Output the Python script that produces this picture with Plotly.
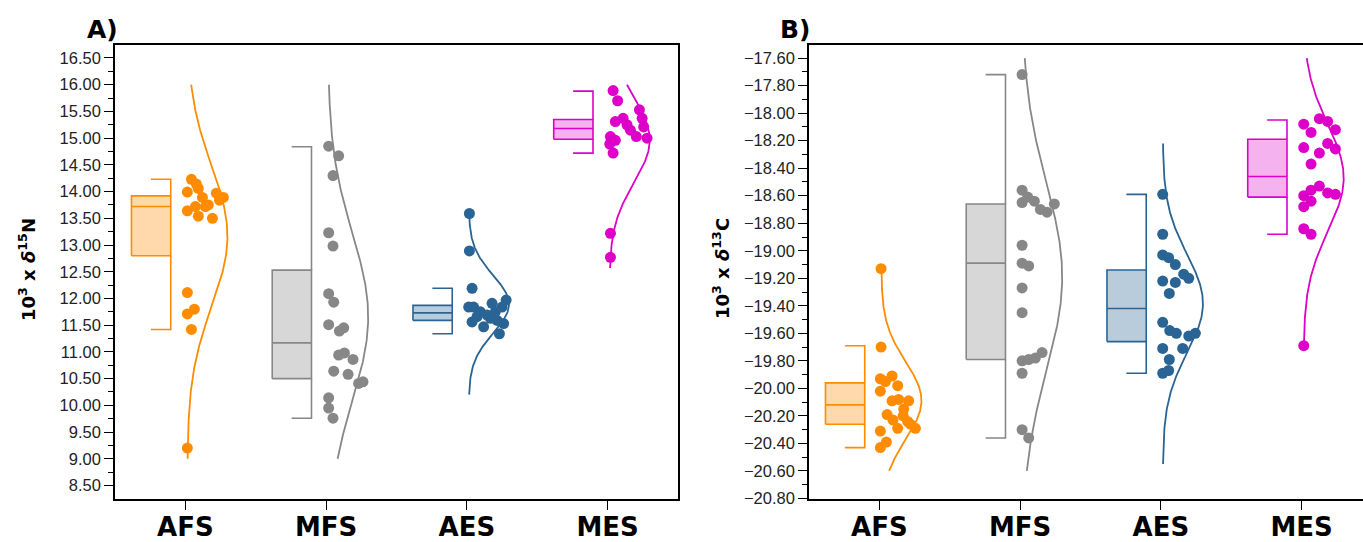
import numpy as np
import plotly.graph_objects as go

W, H = 1363, 542
categories = ["AFS", "MFS", "AES", "MES"]
colors = ["#FF8C00", "#878787", "#2A6494", "#DC00C8"]
fills = ["rgba(255,140,0,0.33)", "rgba(135,135,135,0.33)", "rgba(42,100,148,0.33)", "rgba(220,0,200,0.30)"]

# ---------------- Panel A : d15N ----------------
a_afs = [14.23, 14.14, 14.06, 13.99, 13.97, 13.89, 13.84, 13.89, 13.75, 13.72, 13.72, 13.64, 13.54, 13.50, 12.11, 11.80, 11.71, 11.42, 9.20]
a_afs_jit = [0.043, 0.078, 0.092, 0.014, 0.22, 0.27, 0.242, 0.121, 0.163, 0.142, 0.071, 0.014, 0.092, 0.192, 0.014, 0.064, 0.014, 0.043, 0.014]
a_mfs = [14.85, 14.67, 14.30, 13.23, 12.98, 12.09, 11.93, 11.51, 11.39, 11.45, 10.94, 10.98, 10.86, 10.64, 10.58, 10.41, 10.44, 10.14, 9.95, 9.76]
a_mfs_jit = [0.018, 0.089, 0.049, 0.018, 0.049, 0.018, 0.054, 0.018, 0.094, 0.125, 0.089, 0.13, 0.191, 0.054, 0.156, 0.231, 0.262, 0.018, 0.018, 0.049]
a_aes = [13.59, 12.89, 12.19, 11.84, 11.84, 11.91, 11.97, 11.75, 11.69, 11.75, 11.84, 11.56, 11.47, 11.59, 11.53, 11.34, 11.66, 11.63]
a_aes_jit = [0.018, 0.018, 0.037, 0.013, 0.048, 0.179, 0.279, 0.096, 0.144, 0.202, 0.25, 0.037, 0.119, 0.215, 0.261, 0.231, 0.072, 0.167]
a_mes = [15.89, 15.70, 15.53, 15.37, 15.31, 15.37, 15.25, 15.21, 15.15, 15.03, 15.00, 15.03, 14.96, 14.89, 14.72, 13.22, 12.77]
a_mes_jit = [0.039, 0.071, 0.226, 0.11, 0.055, 0.245, 0.138, 0.256, 0.162, 0.204, 0.28, 0.02, 0.055, 0.015, 0.039, 0.02, 0.02]
a_q1 = [12.80, 10.50, 11.59, 14.98]
a_med = [13.72, 11.17, 11.73, 15.18]
a_q3 = [13.92, 12.53, 11.87, 15.35]
a_wlo = [11.42, 9.76, 11.34, 14.72]
a_whi = [14.23, 14.84, 12.19, 15.88]
a_curve_lo = [9.0, 9.0, 10.2, 12.57]
a_curve_hi = [16.0, 16.0, 13.6, 16.0]
a_ticks = [8.5, 9.0, 9.5, 10.0, 10.5, 11.0, 11.5, 12.0, 12.5, 13.0, 13.5, 14.0, 14.5, 15.0, 15.5, 16.0, 16.5]

# ---------------- Panel B : d13C ----------------
b_afs = [-19.13, -19.70, -19.93, -19.91, -19.95, -19.98, -20.02, -20.09, -20.08, -20.09, -20.15, -20.19, -20.23, -20.20, -20.24, -20.29, -20.29, -20.26, -20.31, -20.39, -20.43]
b_afs_jit = [0.012, 0.012, 0.007, 0.09, 0.043, 0.13, 0.007, 0.09, 0.137, 0.208, 0.173, 0.055, 0.097, 0.169, 0.201, 0.256, 0.13, 0.22, 0.007, 0.05, 0.007]
b_mfs = [-17.72, -18.56, -18.65, -18.61, -18.64, -18.70, -18.72, -18.66, -18.96, -19.09, -19.11, -19.27, -19.45, -19.80, -19.79, -19.78, -19.74, -19.89, -20.30, -20.36]
b_mfs_jit = [0.014, 0.014, 0.014, 0.054, 0.101, 0.144, 0.191, 0.243, 0.014, 0.014, 0.061, 0.014, 0.014, 0.014, 0.061, 0.108, 0.156, 0.014, 0.014, 0.061]
b_aes = [-18.59, -18.88, -19.03, -19.05, -19.10, -19.17, -19.20, -19.22, -19.23, -19.31, -19.52, -19.58, -19.60, -19.62, -19.60, -19.71, -19.71, -19.79, -19.89, -19.87]
b_aes_jit = [0.013, 0.013, 0.013, 0.055, 0.103, 0.162, 0.198, 0.013, 0.103, 0.06, 0.013, 0.063, 0.11, 0.198, 0.245, 0.013, 0.155, 0.06, 0.013, 0.055]
b_mes = [-18.08, -18.04, -18.06, -18.12, -18.14, -18.25, -18.22, -18.26, -18.29, -18.37, -18.53, -18.56, -18.60, -18.58, -18.59, -18.64, -18.68, -18.84, -18.88, -19.69]
b_mes_jit = [0.015, 0.126, 0.185, 0.24, 0.067, 0.015, 0.185, 0.24, 0.126, 0.067, 0.126, 0.067, 0.015, 0.185, 0.24, 0.067, 0.015, 0.015, 0.067, 0.015]
b_q1 = [-20.26, -19.79, -19.66, -18.61]
b_med = [-20.12, -19.09, -19.42, -18.46]
b_q3 = [-19.96, -18.66, -19.14, -18.19]
b_wlo = [-20.43, -20.36, -19.89, -18.88]
b_whi = [-19.69, -17.72, -18.59, -18.05]
b_curve_lo = [-20.6, -20.6, -20.55, -19.7]
b_curve_hi = [-19.13, -17.6, -18.22, -17.6]
b_ticks = [-20.8, -20.6, -20.4, -20.2, -20.0, -19.8, -19.6, -19.4, -19.2, -19.0, -18.8, -18.6, -18.4, -18.2, -18.0, -17.8, -17.6]

# geometry (category units)
BOX_L, BOX_R, CAP_L = -0.383, -0.104, -0.245
CURVE_BASE, CURVE_W = 0.014, 0.285

fig = go.Figure()


def add_panel(vals, jits, q1, med, q3, wlo, whi, clo, chi, xa, ya):
    for i in range(4):
        c = i
        col, fc = colors[i], fills[i]
        # box
        fig.add_trace(go.Scatter(x=[c + BOX_L, c + BOX_R, c + BOX_R, c + BOX_L, c + BOX_L],
                                 y=[q1[i], q1[i], q3[i], q3[i], q1[i]], mode="lines", fill="toself",
                                 fillcolor=fc, line=dict(color=col, width=1.6), xaxis=xa, yaxis=ya,
                                 showlegend=False, hoverinfo="skip"))
        fig.add_trace(go.Scatter(x=[c + BOX_L, c + BOX_R], y=[med[i], med[i]], mode="lines",
                                 line=dict(color=col, width=1.6), xaxis=xa, yaxis=ya,
                                 showlegend=False, hoverinfo="skip"))
        # whiskers on right edge
        fig.add_trace(go.Scatter(x=[c + CAP_L, c + BOX_R, c + BOX_R, None, c + BOX_R, c + BOX_R, c + CAP_L],
                                 y=[whi[i], whi[i], q3[i], None, q1[i], wlo[i], wlo[i]], mode="lines",
                                 line=dict(color=col, width=1.6), xaxis=xa, yaxis=ya,
                                 showlegend=False, hoverinfo="skip"))
        # normal density curve from the data
        v = np.array(vals[i])
        m, s = v.mean(), v.std(ddof=1)
        yy = np.linspace(clo[i], chi[i], 300)
        xx = c + CURVE_BASE + CURVE_W * np.exp(-0.5 * ((yy - m) / s) ** 2)
        fig.add_trace(go.Scatter(x=xx, y=yy, mode="lines", line=dict(color=col, width=1.8),
                                 xaxis=xa, yaxis=ya, showlegend=False, hoverinfo="skip"))
        # points
        fig.add_trace(go.Scatter(x=[c + j for j in jits[i]], y=vals[i], mode="markers",
                                 marker=dict(color=col, size=11, line=dict(width=0)),
                                 xaxis=xa, yaxis=ya, showlegend=False, name=categories[i]))


add_panel([a_afs, a_mfs, a_aes, a_mes], [a_afs_jit, a_mfs_jit, a_aes_jit, a_mes_jit],
          a_q1, a_med, a_q3, a_wlo, a_whi, a_curve_lo, a_curve_hi, "x", "y")
add_panel([b_afs, b_mfs, b_aes, b_mes], [b_afs_jit, b_mfs_jit, b_aes_jit, b_mes_jit],
          b_q1, b_med, b_q3, b_wlo, b_whi, b_curve_lo, b_curve_hi, "x2", "y2")

ydom = [1 - 498.5 / H, 1 - 45 / H]
tickfont = dict(family="Liberation Sans, Arial", size=16.5, color="#222")
xfont = dict(family="DejaVu Sans", size=26, color="black", weight="bold")
common_x = dict(tickvals=[0, 1, 2, 3], ticktext=categories, ticks="outside", ticklen=10, tickwidth=1.3,
                tickcolor="black", showline=True, linecolor="black", linewidth=1.6, mirror=True,
                showgrid=False, zeroline=False, tickfont=xfont, automargin=False, ticklabelstandoff=-6)
fig.update_layout(
    width=W, height=H, margin=dict(l=0, r=0, t=0, b=0, autoexpand=False),
    paper_bgcolor="white", plot_bgcolor="white", showlegend=False,
    xaxis=dict(domain=[115 / W, 678 / W], range=[-0.5, 3.5], anchor="y", **common_x),
    xaxis2=dict(domain=[809 / W, 1.0], range=[-0.5, -0.5 + (W - 809) / 140.75], anchor="y2", **common_x),
    yaxis=dict(domain=ydom, range=[8.257, 16.743], tickvals=a_ticks, tickformat=".2f",
               ticks="outside", ticklen=9, tickwidth=1.3, tickcolor="black", showline=True,
               linecolor="black", linewidth=1.6, mirror=True, showgrid=False, zeroline=False,
               tickfont=tickfont, anchor="x", automargin=False,
               minor=dict(dtick=0.25, tick0=0, ticks="outside", ticklen=5, tickwidth=1.2, tickcolor="black")),
    yaxis2=dict(domain=ydom, range=[-20.8, -17.505], tickvals=b_ticks, tickformat=".2f",
                ticks="outside", ticklen=9, tickwidth=1.3, tickcolor="black", showline=True,
                linecolor="black", linewidth=1.6, mirror=False, showgrid=False, zeroline=False,
                tickfont=tickfont, anchor="x2", automargin=False,
                minor=dict(dtick=0.1, tick0=0, ticks="outside", ticklen=5, tickwidth=1.2, tickcolor="black")),
)

titlefont = dict(family="DejaVu Sans", size=18, color="black")
for xpx, txt in [(27, "<b>10<sup>3</sup> x <i>δ</i><sup>15</sup>N</b>"), (721, "<b>10<sup>3</sup> x <i>δ</i><sup>13</sup>C</b>")]:
    fig.add_annotation(x=xpx / W, y=1 - 269 / H, xref="paper", yref="paper", text=txt, textangle=-90,
                       showarrow=False, font=titlefont, xanchor="center", yanchor="middle")
for xpx, txt in [(85, "A)"), (778, "B)")]:
    fig.add_annotation(x=xpx / W, y=1 - 29 / H, xref="paper", yref="paper", text="<b>" + txt + "</b>",
                       showarrow=False, font=dict(family="DejaVu Sans", size=25, color="black"),
                       xanchor="left", yanchor="middle")

fig.write_html("out.html")
